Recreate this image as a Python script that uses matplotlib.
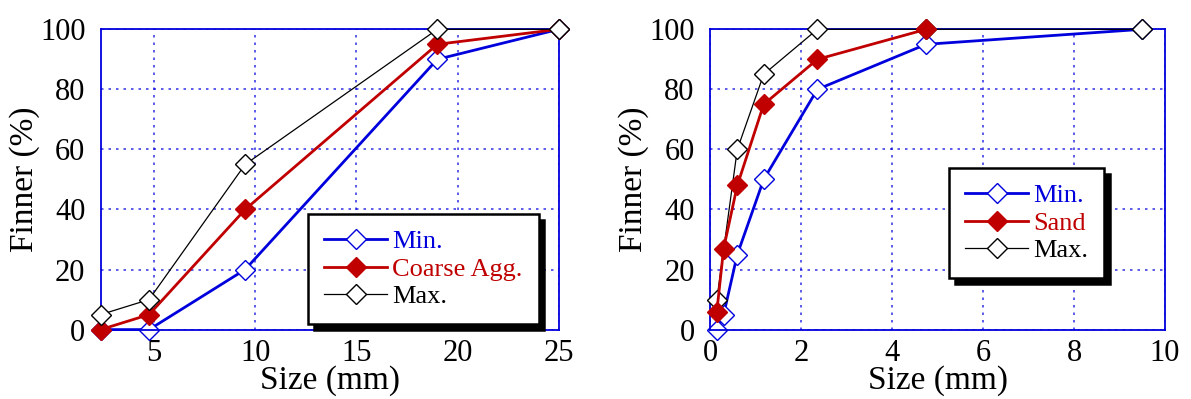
import matplotlib
matplotlib.use("Agg")
import matplotlib.pyplot as plt

# Coarse aggregate data
coarse_sizes = [2.36, 4.75, 9.5, 19, 25]
coarse_min = [0, 0, 20, 90, 100]
coarse_agg = [0, 5, 40, 95, 100]
coarse_max = [5, 10, 55, 100, 100]

# Sand data
sand_min_sizes = [0.15, 0.3, 0.6, 1.18, 2.36, 4.75, 9.5]
sand_min = [0, 5, 25, 50, 80, 95, 100]
sand_sizes = [0.15, 0.3, 0.6, 1.18, 2.36, 4.75]
sand_vals = [6, 27, 48, 75, 90, 100]
sand_max_sizes = [0.15, 0.6, 1.18, 2.36, 4.75, 9.5]
sand_max = [10, 60, 85, 100, 100, 100]

coarse_xticks = [5, 10, 15, 20, 25]
sand_xticks = [0, 2, 4, 6, 8, 10]
yticks = [0, 20, 40, 60, 80, 100]

plt.rcParams['font.family'] = ['Liberation Serif', 'DejaVu Serif']

BLUE = '#0000dd'
RED = '#c00000'
W, H = 1191, 399
fig = plt.figure(figsize=(W / 100, H / 100), dpi=100)

ax1 = fig.add_axes([100.7 / W, (H - 329.6) / H, (558.7 - 100.7) / W, 300.3 / H])
ax2 = fig.add_axes([710 / W, (H - 329.6) / H, (1165 - 710) / W, 300.3 / H])


def style(ax, xlim, xticks):
    ax.set_xlim(*xlim)
    ax.set_ylim(0, 100)
    ax.set_xticks(xticks)
    ax.set_yticks(yticks)
    for s in ax.spines.values():
        s.set_color(BLUE)
        s.set_linewidth(1.3)
    ax.grid(True, color=BLUE, linestyle=(0, (1.5, 3)), linewidth=1.2, alpha=0.75)
    ax.tick_params(direction='in', length=0, labelsize=22, pad=7, colors='black')
    ax.tick_params(axis='y', pad=11)
    ax.set_xlabel('Size (mm)', fontsize=24, labelpad=-2)
    ax.set_ylabel('Finner (%)', fontsize=24, labelpad=0)
    ax.set_axisbelow(True)


def plot_line(ax, x, y, kind, label, z):
    if kind == 'min':
        kw = dict(color=BLUE, lw=2.0, mfc='white', mec=BLUE)
    elif kind == 'mid':
        kw = dict(color=RED, lw=2.0, mfc=RED, mec=RED)
    else:
        kw = dict(color='black', lw=0.9, mfc='white', mec='black')
    ax.plot(x, y, marker='D', ms=10, mew=1.0, label=label, zorder=z,
            clip_on=False, **kw)


def legend(ax, bbox, midlabel):
    handles, labels = ax.get_legend_handles_labels()
    d = dict(zip(labels, handles))
    order = ['Min.', midlabel, 'Max.']
    leg = ax.legend([d[k] for k in order], order,
                    loc='upper left', bbox_to_anchor=bbox, fontsize=19,
                    frameon=True, fancybox=False, framealpha=1,
                    edgecolor='black', handlelength=2.4, handletextpad=0.2,
                    labelspacing=0.15, borderpad=0.6, borderaxespad=0,
                    shadow={'color': 'black', 'alpha': 1, 'ox': 4, 'oy': -4})
    leg.get_frame().set_linewidth(1.8)
    for txt, c in zip(leg.get_texts(), [BLUE, RED, 'black']):
        txt.set_color(c)
    leg.set_zorder(10)


style(ax1, (2.36, 25), coarse_xticks)
plot_line(ax1, coarse_sizes, coarse_min, 'min', 'Min.', 2)
plot_line(ax1, coarse_sizes, coarse_agg, 'mid', 'Coarse Agg.', 3)
plot_line(ax1, coarse_sizes, coarse_max, 'max', 'Max.', 4)
legend(ax1, ((308 - 100.7) / 458, (329.6 - 214) / 300.3), 'Coarse Agg.')

style(ax2, (0, 10), sand_xticks)
plot_line(ax2, sand_min_sizes, sand_min, 'min', 'Min.', 2)
plot_line(ax2, sand_max_sizes, sand_max, 'max', 'Max.', 3)
plot_line(ax2, sand_sizes, sand_vals, 'mid', 'Sand', 4)
legend(ax2, ((949 - 710) / 455, (329.6 - 168) / 300.3), 'Sand')

fig.savefig('out.png', dpi=100)
